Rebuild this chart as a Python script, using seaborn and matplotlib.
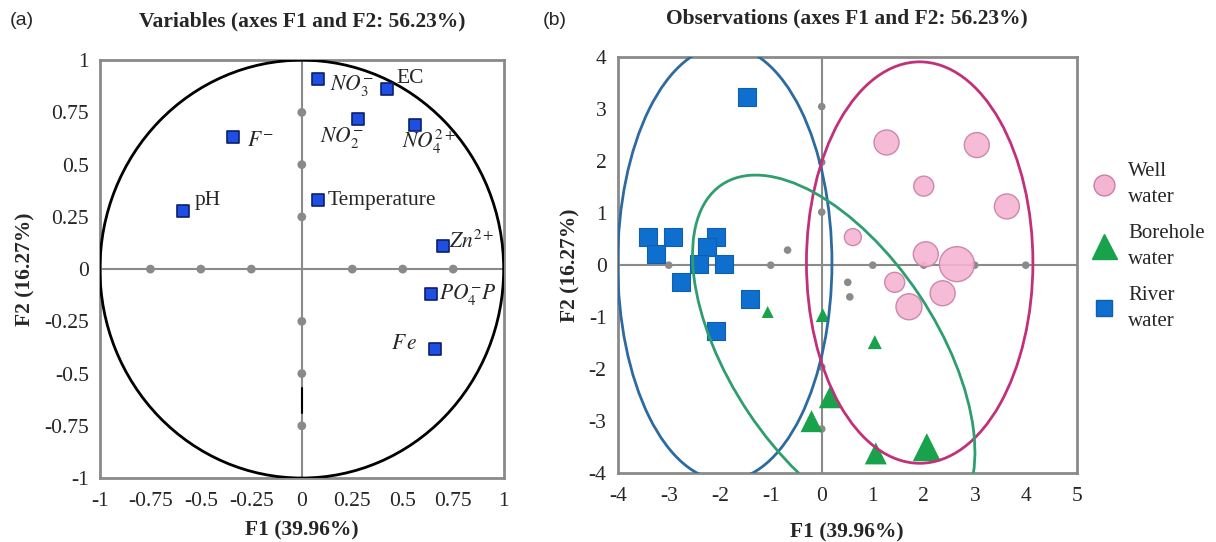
import numpy as np
import pandas as pd
import matplotlib
matplotlib.use("Agg")
import matplotlib.pyplot as plt
import seaborn as sns
from matplotlib.patches import Circle, Ellipse
from matplotlib.lines import Line2D

# ---- data: panel (a) variables ----
var_labels = [r"$NO_3^{-}$", "EC", r"$NO_2^{-}$", r"$NO_4^{2+}$", r"$F^{-}$", "pH",
              "Temperature", r"$Zn^{2+}$", r"$PO_4^{-}P$", r"$F\,e$"]
var_f1 = [0.08, 0.42, 0.28, 0.56, -0.34, -0.59, 0.08, 0.70, 0.64, 0.66]
var_f2 = [0.91, 0.86, 0.72, 0.69, 0.63, 0.28, 0.33, 0.11, -0.12, -0.38]

# grey marks sitting on the axes of panel (a)
grid_a_f1 = [-0.75, -0.5, -0.25, 0.25, 0.5, 0.75, 0, 0, 0, 0, 0, 0]
grid_a_f2 = [0, 0, 0, 0, 0, 0, 0.75, 0.5, 0.25, -0.25, -0.5, -0.75]

# ---- data: panel (b) observations ----
river_f1 = [-3.41, -2.92, -3.25, -2.08, -2.25, -2.41, -1.92, -2.75, -1.41, -2.08, -1.47]
river_f2 = [0.54, 0.54, 0.21, 0.54, 0.35, 0.02, 0.02, -0.32, -0.65, -1.27, 3.23]

bore_f1 = [-1.06, 0.02, 1.04, 0.16, -0.20, 1.06, 2.06]
bore_f2 = [-0.90, -0.96, -1.48, -2.54, -3.00, -3.62, -3.50]
bore_w = [12, 14, 14, 22, 22, 22, 28]

well_f1 = [1.27, 3.04, 2.00, 3.63, 0.61, 2.04, 2.65, 1.43, 2.37, 1.71]
well_f2 = [2.36, 2.31, 1.52, 1.13, 0.54, 0.21, 0.02, -0.33, -0.54, -0.80]
well_w = [25, 25, 20, 25, 17, 25, 35, 20, 25, 26]

grid_b_f1 = [-3, -1, 1, 2, 3, 4, 0, 0, 0, 0, 0, -0.67, 0.51, 0.55]
grid_b_f2 = [0, 0, 0, 0, 0, 0, 3.05, 1.98, 1.02, -1.96, -3.15, 0.29, -0.33, -0.61]

# confidence ellipses: river, well, borehole
ell_cx = [-1.90, 1.92, 0.235]
ell_cy = [0.04, 0.05, -1.70]
ell_w = [4.20, 4.44, 7.84]
ell_h = [8.36, 7.72, 4.04]
ell_angle = [0, 0, -55.7]
ell_colors = ["#2c6aa0", "#c2307a", "#2f9e6e"]

sns.set_style("white")
plt.rcParams["font.family"] = ["Liberation Serif", "DejaVu Serif"]
plt.rcParams["mathtext.fontset"] = "stix"
plt.rcParams["axes.unicode_minus"] = False

grey = "#8a8a8a"

fig = plt.figure(figsize=(12.16, 5.42), dpi=100)
ax1 = fig.add_axes([0.0822, 0.118, 0.332, 0.771])
ax2 = fig.add_axes([0.508, 0.127, 0.3775, 0.7675])

# ---------- panel (a) ----------
ax1.axhline(0, color=grey, lw=1.5, zorder=1)
ax1.axvline(0, color=grey, lw=1.5, zorder=1)
sns.scatterplot(x=grid_a_f1, y=grid_a_f2, color=grey, s=40, edgecolor="none", ax=ax1, zorder=2)
ax1.plot([0, 0], [-0.57, -0.69], color="black", lw=1.5, zorder=2)
ax1.add_patch(Circle((0, 0), 1, fill=False, color="black", lw=2, zorder=3))
sns.scatterplot(x=var_f1, y=var_f2, marker="s", s=80, color="#1f4fe0",
                edgecolor="#0b1f70", linewidth=1.2, ax=ax1, zorder=5)

# label placement (offset from point, alignment)
label_pos = [(0.06, -0.03, "left"), (0.05, 0.05, "left"), (-0.08, -0.09, "center"),
             (0.07, -0.08, "center"), (0.07, -0.02, "left"), (0.06, 0.05, "left"),
             (0.05, 0.0, "left"), (0.03, 0.02, "left"), (0.04, 0.0, "left"),
             (-0.085, 0.02, "right")]
for lab, x, y, (dx, dy, ha) in zip(var_labels, var_f1, var_f2, label_pos):
    ax1.text(x + dx, y + dy, lab, ha=ha, va="center", fontsize=15.5, zorder=6)

ax1.set_xlim(-1, 1)
ax1.set_ylim(-1, 1)
ticks_a = [-1, -0.75, -0.5, -0.25, 0, 0.25, 0.5, 0.75, 1]
tick_lab_a = ["-1", "-0.75", "-0.5", "-0.25", "0", "0.25", "0.5", "0.75", "1"]
ax1.set_xticks(ticks_a, tick_lab_a)
ax1.set_yticks(ticks_a, tick_lab_a)
ax1.set_title("Variables (axes F1 and F2: 56.23%)", fontweight="bold", fontsize=15.5, pad=24)
ax1.set_xlabel("F1 (39.96%)", fontweight="bold", fontsize=15.5, labelpad=7)
ax1.set_ylabel("F2 (16.27%)", fontweight="bold", fontsize=15.5, labelpad=6)

# ---------- panel (b) ----------
ax2.axhline(0, color=grey, lw=1.5, zorder=1)
ax2.axvline(0, color=grey, lw=1.5, zorder=1)
sns.scatterplot(x=grid_b_f1, y=grid_b_f2, color=grey, s=30, edgecolor="none", ax=ax2, zorder=2)

well_df = pd.DataFrame({"f1": well_f1, "f2": well_f2, "w": well_w})
sns.scatterplot(data=well_df, x="f1", y="f2", size="w",
                sizes={w: (w * 0.72) ** 2 for w in set(well_w)},
                color="#f6b4d3", edgecolor="#c77fa6", linewidth=1, alpha=0.9,
                legend=False, ax=ax2, zorder=3)
bore_df = pd.DataFrame({"f1": bore_f1, "f2": bore_f2, "w": bore_w})
sns.scatterplot(data=bore_df, x="f1", y="f2", size="w", marker="^",
                sizes={w: (w * 0.72) ** 2 for w in set(bore_w)},
                color="#19a24c", edgecolor="none", legend=False, ax=ax2, zorder=4)
sns.scatterplot(x=river_f1, y=river_f2, marker="s", s=180, color="#0f6fce",
                edgecolor="#0f5fb0", linewidth=0.8, ax=ax2, zorder=4)

for cx, cy, w, h, a, c in zip(ell_cx, ell_cy, ell_w, ell_h, ell_angle, ell_colors):
    ax2.add_patch(Ellipse((cx, cy), w, h, angle=a, fill=False, color=c, lw=2, zorder=5))

ax2.set_xlim(-4, 5)
ax2.set_ylim(-4, 4)
ax2.set_xticks(range(-4, 6))
ax2.set_yticks(range(-4, 5))
ax2.set_title("Observations (axes F1 and F2: 56.23%)", fontweight="bold", fontsize=15.5, pad=24)
ax2.set_xlabel("F1 (39.96%)", fontweight="bold", fontsize=15.5, labelpad=12)
ax2.set_ylabel("F2 (16.27%)", fontweight="bold", fontsize=15.5, labelpad=6)

for ax in (ax1, ax2):
    for sp in ax.spines.values():
        sp.set_color(grey)
        sp.set_linewidth(2)
    ax.tick_params(length=0, labelsize=15.5)
    ax.tick_params(axis="x", pad=10)
    ax.tick_params(axis="y", pad=8)

handles = [
    Line2D([], [], ls="none", marker="o", markersize=15, markerfacecolor="#f6b4d3",
           markeredgecolor="#c77fa6"),
    Line2D([], [], ls="none", marker="^", markersize=18, markerfacecolor="#19a24c",
           markeredgecolor="#19a24c"),
    Line2D([], [], ls="none", marker="s", markersize=12, markerfacecolor="#0f6fce",
           markeredgecolor="#0f5fb0"),
]
leg = fig.legend(handles, ["Well\nwater", "Borehole\nwater", "River\nwater"],
                 loc="center left", bbox_to_anchor=(0.88, 0.545), frameon=False,
                 fontsize=15, labelspacing=0.8, handletextpad=0.4, handlelength=1.5)
for t in leg.get_texts():
    t.set_linespacing(1.5)

fig.text(0.008, 0.963, "(a)", fontsize=14, family="Liberation Sans", va="center")
fig.text(0.446, 0.963, "(b)", fontsize=14, family="Liberation Sans", va="center")

fig.savefig("out.png", dpi=100)
